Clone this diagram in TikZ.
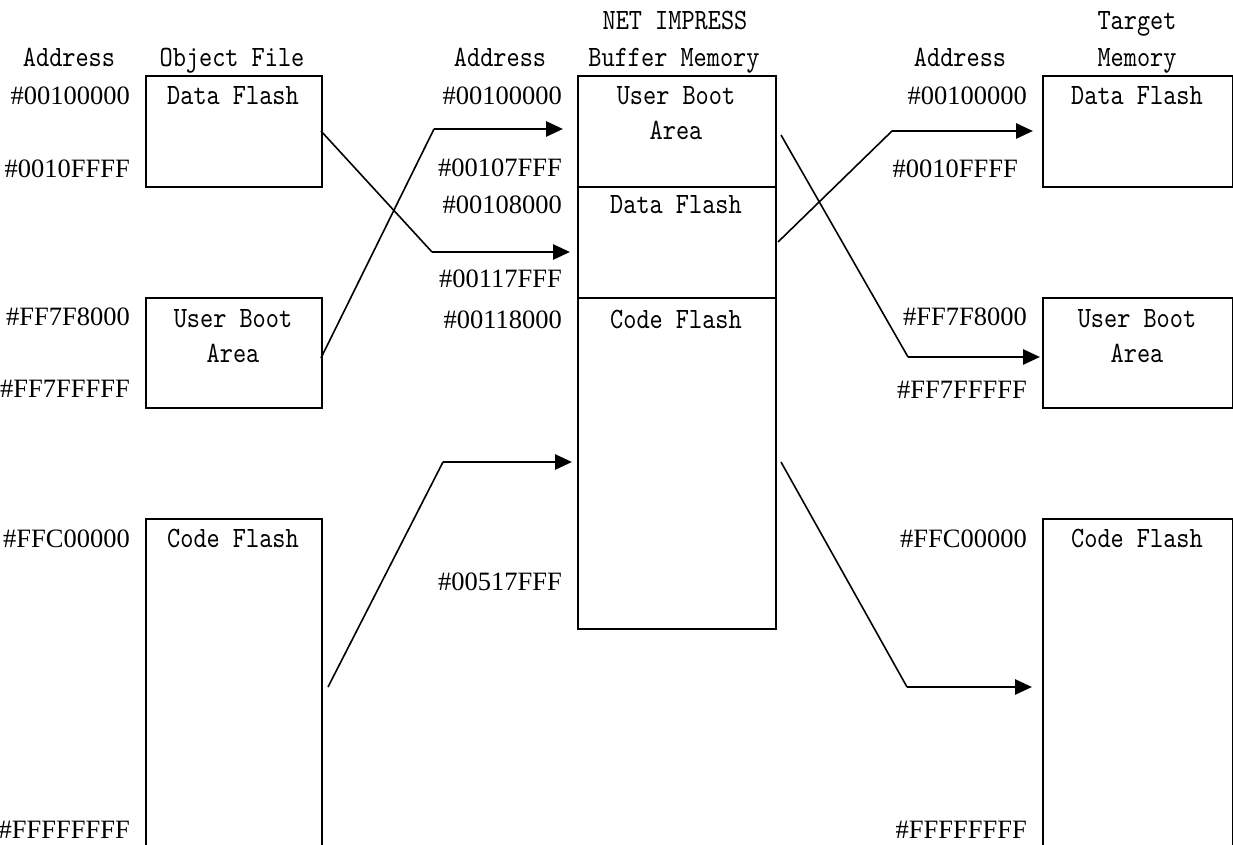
\documentclass[tikz,border=0pt]{standalone}
\usepackage{fontspec}
\newfontfamily\addrfont{Liberation Serif}
\newfontfamily\lblfont{lmmono10-regular.otf}[FakeStretch=0.85]
\usetikzlibrary{arrows.meta}
\begin{document}
\begin{tikzpicture}[x=1pt,y=-1pt,
  box/.style={draw,line width=2pt,anchor=north west,inner sep=0pt},
  lbl/.style={font=\lblfont\fontsize{29.5}{34}\selectfont,inner sep=0pt,anchor=base},
  addr/.style={font=\addrfont\fontsize{26.5}{30}\selectfont,inner sep=0pt,anchor=base east},
  slant/.style={line width=1.6pt},
  arr/.style={line width=2.8pt,-{Triangle[length=17pt,width=15pt]}}]
\useasboundingbox (0,0) rectangle (1233,845);

% ---------- left column: object file ----------
\node[lbl] (hA1) at (69,67) {Address};
\node[lbl] (hObj) at (232,67) {Object File};
\node[box,minimum width=176pt,minimum height=111pt] (objdf) at (145,75) {};
\node[box,minimum width=176pt,minimum height=110pt] (objub) at (145,297) {};
\node[box,minimum width=176pt,minimum height=330pt] (objcf) at (145,518) {};
\node[lbl] (tobjdf) at (233,105) {Data Flash};
\node[lbl] (tobjub1) at (233,327) {User Boot};
\node[lbl] (tobjub2) at (233,362) {Area};
\node[lbl] (tobjcf) at (233,547) {Code Flash};
\node[addr] (a1) at (130,105) {\#00100000};
\node[addr] (a2) at (130,178) {\#0010FFFF};
\node[addr] (a3) at (130,325) {\#FF7F8000};
\node[addr] (a4) at (130,397) {\#FF7FFFFF};
\node[addr] (a5) at (130,547) {\#FFC00000};
\node[addr] (a6) at (130,838) {\#FFFFFFFF};

% ---------- middle column: buffer memory ----------
\node[lbl] (hNet) at (675,30) {NET IMPRESS};
\node[lbl] (hBuf) at (674,67) {Buffer Memory};
\node[lbl] (hA2) at (500,67) {Address};
\node[box,minimum width=198pt,minimum height=111pt] (bufub) at (577,75) {};
\node[box,minimum width=198pt,minimum height=111pt] (bufdf) at (577,186) {};
\node[box,minimum width=198pt,minimum height=331pt] (bufcf) at (577,297) {};
\node[lbl] (tbufub1) at (676,105) {User Boot};
\node[lbl] (tbufub2) at (676,140) {Area};
\node[lbl] (tbufdf) at (676,213) {Data Flash};
\node[lbl] (tbufcf) at (676,328) {Code Flash};
\node[addr] (b1) at (562,105) {\#00100000};
\node[addr] (b2) at (562,177) {\#00107FFF};
\node[addr] (b3) at (562,213) {\#00108000};
\node[addr] (b4) at (562,287) {\#00117FFF};
\node[addr] (b5) at (562,328) {\#00118000};
\node[addr] (b6) at (562,590) {\#00517FFF};

% ---------- right column: target memory ----------
\node[lbl] (hTar) at (1137,30) {Target};
\node[lbl] (hMem) at (1137,67) {Memory};
\node[lbl] (hA3) at (960,67) {Address};
\node[box,minimum width=190pt,minimum height=111pt] (tgtdf) at (1042,75) {};
\node[box,minimum width=190pt,minimum height=110pt] (tgtub) at (1042,297) {};
\node[box,minimum width=190pt,minimum height=330pt] (tgtcf) at (1042,518) {};
\node[lbl] (ttgtdf) at (1137,105) {Data Flash};
\node[lbl] (ttgtub1) at (1137,327) {User Boot};
\node[lbl] (ttgtub2) at (1137,362) {Area};
\node[lbl] (ttgtcf) at (1137,547) {Code Flash};
\node[addr] (c1) at (1027,105) {\#00100000};
\node[addr] (c2) at (1018,178) {\#0010FFFF};
\node[addr] (c3) at (1027,325) {\#FF7F8000};
\node[addr] (c4) at (1027,398) {\#FF7FFFFF};
\node[addr] (c5) at (1027,547) {\#FFC00000};
\node[addr] (c6) at (1027,838) {\#FFFFFFFF};

% ---------- connector points ----------
\coordinate (s1) at (321,131);  \coordinate (k1) at (432,252);  \coordinate (e1) at (570,252);
\coordinate (s2) at (321,358);  \coordinate (k2) at (434,129);  \coordinate (e2) at (563,129);
\coordinate (s3) at (328,687);  \coordinate (k3) at (443,462);  \coordinate (e3) at (572,462);
\coordinate (s4) at (778,242);  \coordinate (k4) at (892,131);  \coordinate (e4) at (1033,131);
\coordinate (s5) at (781,135);  \coordinate (k5) at (908,357);  \coordinate (e5) at (1040,357);
\coordinate (s6) at (781,462);  \coordinate (k6) at (907,687);  \coordinate (e6) at (1032,687);

\draw[slant] (s1) -- (k1); \draw[arr] (k1) -- (e1);
\draw[slant] (s2) -- (k2); \draw[arr] (k2) -- (e2);
\draw[slant] (s3) -- (k3); \draw[arr] (k3) -- (e3);
\draw[slant] (s4) -- (k4); \draw[arr] (k4) -- (e4);
\draw[slant] (s5) -- (k5); \draw[arr] (k5) -- (e5);
\draw[slant] (s6) -- (k6); \draw[arr] (k6) -- (e6);
\end{tikzpicture}
\end{document}
